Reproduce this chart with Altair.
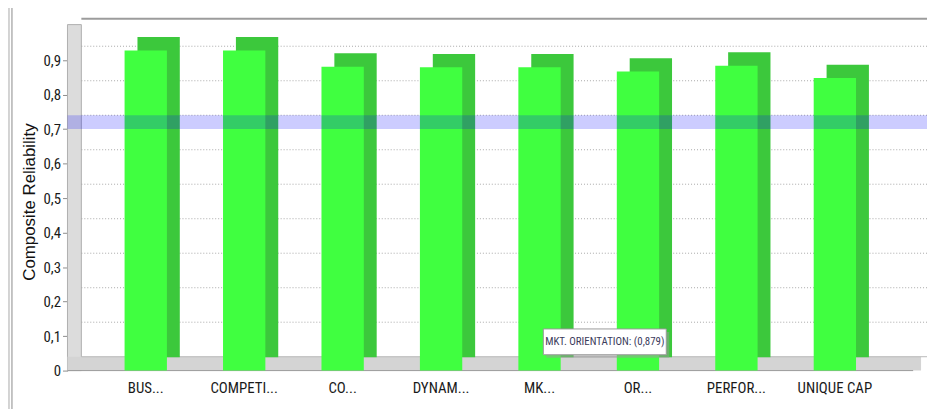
import altair as alt
import pandas as pd

# ---- data ----
categories = ["BUS...", "COMPETI...", "CO...", "DYNAM...", "MK...", "OR...", "PERFOR...", "UNIQUE CAP"]
reliability = [0.928, 0.928, 0.881, 0.879, 0.879, 0.867, 0.884, 0.848]
tick_values = [0, 0.1, 0.2, 0.3, 0.4, 0.5, 0.6, 0.7, 0.8, 0.9]
grid_values = [0.1, 0.2, 0.3, 0.4, 0.5, 0.6, 0.7, 0.8, 0.9]
threshold = [0.7]
tooltip_text = "MKT. ORIENTATION: (0,879)"

W, H = 853, 341
D = 14  # 3D depth in pixels

df = pd.DataFrame({"cat": categories, "val": reliability})
grid_df = pd.DataFrame({"g": grid_values})
thr_df = pd.DataFrame({"t": threshold})

COND = "Roboto Condensed"
TITLE = "Composite Reliability"

yscale = alt.Scale(domain=[0, 0.98], nice=False, zero=True)
xscale = alt.Scale(domain=categories, paddingInner=0.57, paddingOuter=0.58)

y_axis = alt.Axis(values=tick_values,
                  labelExpr="replace(format(datum.value, '.1~f'), '.', ',')",
                  labelFont=COND, labelFontSize=15, labelColor="#1a1a1a",
                  domainColor="#8c8c8c", tickColor="#8c8c8c", tickSize=5,
                  labelPadding=2, grid=False,
                  titleFont="Liberation Sans", titleFontSize=17,
                  titleFontWeight="normal", titleColor="#111111", titlePadding=5)
x_axis = alt.Axis(domain=False, ticks=False, labelAngle=0, labelPadding=10,
                  labelFont=COND, labelFontSize=15, labelColor="#1a1a1a")

one = pd.DataFrame({"k": [0]})

window_border1 = alt.Chart(one).mark_rule(color="#a8a8a8", strokeWidth=1).encode(
    x=alt.value(-59), y=alt.value(-31), y2=alt.value(H + 40))
window_border2 = alt.Chart(one).mark_rule(color="#8a8a8a", strokeWidth=1).encode(
    x=alt.value(-56), y=alt.value(-31), y2=alt.value(H + 40))

left_wall = alt.Chart(one).mark_rect(color="#dcdcdc", stroke="#b0b0b0", strokeWidth=1).encode(
    x=alt.value(0), x2=alt.value(D), y=alt.value(-8), y2=alt.value(H))

top_border = alt.Chart(one).mark_rule(color="#9c9c9c", strokeWidth=2).encode(
    x=alt.value(D), x2=alt.value(W + D), y=alt.value(-D))

grid = alt.Chart(grid_df).mark_rule(color="#a8a8a8", strokeDash=[1, 2], strokeWidth=1, yOffset=-D).encode(
    y=alt.Y("g:Q", scale=yscale, axis=y_axis, title=TITLE),
    x=alt.value(D), x2=alt.value(W + D))

floor = alt.Chart(one).mark_rect(color="#d4d4d4").encode(
    x=alt.value(0), x2=alt.value(W + D - 6), y=alt.value(H - D), y2=alt.value(H))
floor_back = alt.Chart(one).mark_rule(color="#b8b8b8", strokeWidth=1).encode(
    x=alt.value(D), x2=alt.value(W + D), y=alt.value(H - D))
floor_front = alt.Chart(one).mark_rule(color="#9a9a9a", strokeWidth=1).encode(
    x=alt.value(0), x2=alt.value(W), y=alt.value(H))

bar_side = alt.Chart(df).mark_bar(color="#3cc83c", xOffset=13, yOffset=-13.5).encode(
    x=alt.X("cat:N", scale=xscale, sort=categories, axis=x_axis, title=None),
    y=alt.Y("val:Q", scale=yscale, axis=y_axis, title=TITLE))

bar_front = alt.Chart(df).mark_bar(color="#40ff40").encode(
    x=alt.X("cat:N", scale=xscale, sort=categories, axis=x_axis, title=None),
    y=alt.Y("val:Q", scale=yscale, axis=y_axis, title=TITLE))

band = alt.Chart(thr_df).mark_rect(color="#0000ff", opacity=0.2, y2Offset=-D).encode(
    y=alt.Y("t:Q", scale=yscale, axis=y_axis, title=TITLE),
    y2="t:Q",
    x=alt.value(0), x2=alt.value(W + D))

tip_shadow = alt.Chart(one).mark_rect(color="#9a9a9a", opacity=0.5).encode(
    x=alt.value(483), x2=alt.value(607), y=alt.value(302), y2=alt.value(328))
tip_box = alt.Chart(one).mark_rect(color="#ffffff", stroke="#9a9a9a", strokeWidth=1).encode(
    x=alt.value(480), x2=alt.value(604), y=alt.value(299), y2=alt.value(325))
tip_text = alt.Chart(one).mark_text(text=tooltip_text, font=COND, fontSize=11,
                                    color="#3c3c5c", baseline="middle", align="center").encode(
    x=alt.value(542), y=alt.value(312.5))

chart = alt.layer(
    window_border1, window_border2, left_wall, top_border, grid, floor, floor_back, floor_front,
    bar_side, bar_front, band, tip_shadow, tip_box, tip_text
).properties(
    width=W, height=H,
    padding={"left": 60, "top": 23, "right": 15, "bottom": 37},
    autosize=alt.AutoSizeParams(type="none"),
    background="white",
).configure_view(stroke=None)

chart.save("out.html", embed_options={"renderer": "svg", "actions": False})
